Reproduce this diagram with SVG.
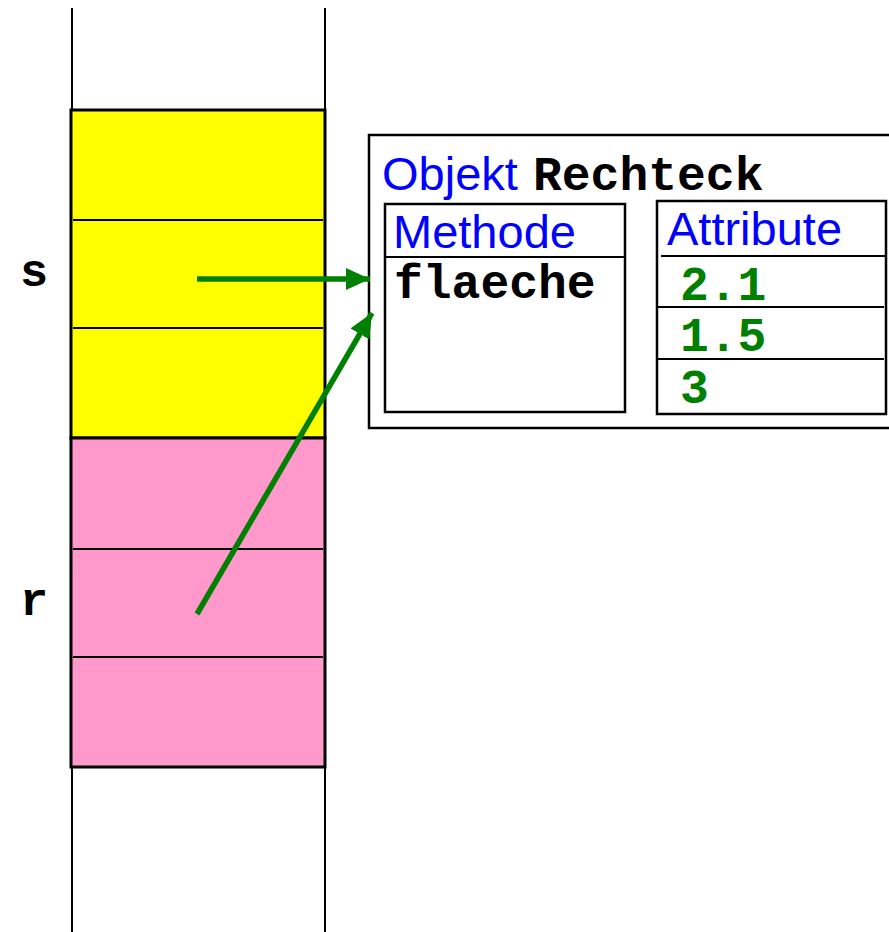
<svg xmlns="http://www.w3.org/2000/svg" width="889" height="932" viewBox="0 0 889 932">
<style>
.ln{stroke:#000;stroke-width:2;fill:none}
.bx{stroke:#000;stroke-width:2.5;fill:#fff}
.sans{font-family:"Liberation Sans",Arial,sans-serif;font-size:47px;fill:#0000ff}
.mono{font-family:"Liberation Mono","Courier New",monospace;font-size:47px;font-weight:bold;fill:#000}
.num{fill:#008000}
.arr{stroke:#008000;stroke-width:5.5;fill:none}
</style>
<defs>
<marker id="ah" markerWidth="5" markerHeight="5" refX="4.4" refY="2" orient="auto" markerUnits="strokeWidth">
<path d="M0,0 L4.4,2 L0,4 Z" fill="#008000"/>
</marker>
</defs>
<rect width="889" height="932" fill="#fff"/>
<g id="stack">
<line class="ln" x1="72" y1="8" x2="72" y2="932"/>
<line class="ln" x1="325" y1="8" x2="325" y2="932"/>
</g>
<g id="s">
<rect x="71" y="110" width="254" height="328" fill="#ffff00" stroke="#000" stroke-width="3"/>
<line class="ln" x1="73" y1="220" x2="323" y2="220"/>
<line class="ln" x1="73" y1="328" x2="323" y2="328"/>
<text class="mono" x="20" y="286">s</text>
</g>
<g id="r">
<rect x="71" y="438" width="254" height="329" fill="#ff99cc" stroke="#000" stroke-width="3"/>
<line class="ln" x1="73" y1="549" x2="323" y2="549"/>
<line class="ln" x1="73" y1="657" x2="323" y2="657"/>
<text class="mono" x="20" y="615">r</text>
</g>
<g id="objekt">
<rect class="bx" x="369" y="135" width="530" height="293"/>
<text class="sans" x="382" y="190">Objekt</text>
<text class="mono" x="533" y="190" style="font-size:48px">Rechteck</text>
</g>
<g id="methode">
<rect class="bx" x="385" y="204" width="240" height="208"/>
<line class="ln" x1="385" y1="257" x2="625" y2="257"/>
<text class="sans" x="393" y="248">Methode</text>
<text class="mono" x="394" y="298" style="font-size:48px">flaeche</text>
</g>
<g id="attribute">
<rect class="bx" x="657" y="201" width="229" height="213"/>
<line class="ln" x1="661" y1="256" x2="886" y2="256"/>
<line class="ln" x1="657" y1="307" x2="884" y2="307"/>
<line class="ln" x1="657" y1="359" x2="884" y2="359"/>
<text class="sans" x="667" y="245">Attribute</text>
<text class="mono num" x="680" y="300" style="font-size:48px">2.1</text>
<text class="mono num" x="680" y="351" style="font-size:48px">1.5</text>
<text class="mono num" x="680" y="403" style="font-size:48px">3</text>
</g>
<g id="connectors">
<line class="arr" x1="197" y1="279" x2="370" y2="279" marker-end="url(#ah)"/>
<line class="arr" x1="197" y1="614" x2="372" y2="313" marker-end="url(#ah)"/>
</g>
</svg>
